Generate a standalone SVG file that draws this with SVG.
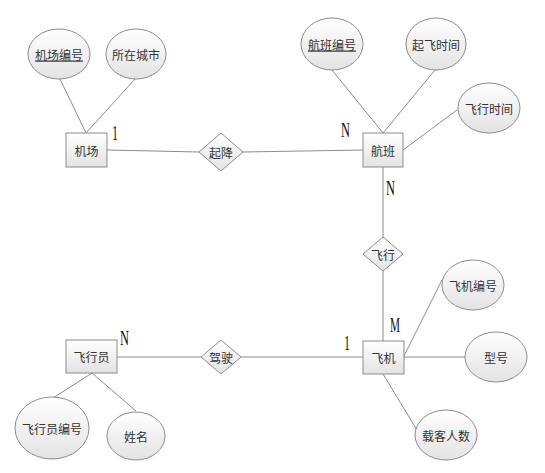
<svg xmlns="http://www.w3.org/2000/svg" width="545" height="473" viewBox="0 0 545 473">
<defs>
<linearGradient id="g" x1="0" y1="0" x2="0" y2="1">
<stop offset="0" stop-color="#ffffff"/>
<stop offset="1" stop-color="#e3e3e3"/>
</linearGradient>
<style>
.sh{fill:url(#g);stroke:#8c8c8c;stroke-width:1}
.ln{stroke:#8c8c8c;stroke-width:1;fill:none}
.t{font-family:"Noto Sans CJK SC","Noto Sans",sans-serif;font-size:12px;fill:#333;text-anchor:middle;dominant-baseline:central}
.u{text-decoration:underline}
.c{font-family:"Liberation Serif",serif;font-size:21px;fill:#111}
</style>
</defs>
<rect width="545" height="473" fill="#fff"/>
<g id="connectors">
<line class="ln" x1="60" y1="79" x2="86" y2="133"/>
<line class="ln" x1="135" y1="79" x2="86" y2="133"/>
<line class="ln" x1="107" y1="150" x2="199" y2="152"/>
<line class="ln" x1="243" y1="152" x2="363" y2="150"/>
<line class="ln" x1="332" y1="70" x2="383" y2="133"/>
<line class="ln" x1="435" y1="70" x2="383" y2="133"/>
<line class="ln" x1="457" y1="110" x2="403" y2="150"/>
<line class="ln" x1="383" y1="167" x2="383" y2="237"/>
<line class="ln" x1="383" y1="271" x2="383" y2="341"/>
<line class="ln" x1="404" y1="356" x2="442" y2="280"/>
<line class="ln" x1="404" y1="357" x2="465" y2="357"/>
<line class="ln" x1="383" y1="374" x2="417" y2="430"/>
<line class="ln" x1="117" y1="357" x2="201" y2="357"/>
<line class="ln" x1="241" y1="357" x2="363" y2="357"/>
<line class="ln" x1="92" y1="373" x2="53" y2="398"/>
<line class="ln" x1="92" y1="373" x2="136" y2="411"/>
</g>
<g id="attr-jichangbianhao"><ellipse class="sh" cx="59" cy="54" rx="31" ry="25"/><text class="t u" x="59" y="54">机场编号</text></g>
<g id="attr-suozaichengshi"><ellipse class="sh" cx="136" cy="54" rx="30" ry="25"/><text class="t" x="136" y="54">所在城市</text></g>
<g id="entity-jichang"><rect class="sh" x="66" y="133" width="41" height="34"/><text class="t" x="86.5" y="150">机场</text></g>
<g id="rel-qijiang"><polygon class="sh" points="221,133 243,152 221,171 199,152"/><text class="t" x="221" y="152">起降</text></g>
<g id="attr-hangbanbianhao"><ellipse class="sh" cx="332" cy="44" rx="31" ry="26"/><text class="t u" x="332" y="44">航班编号</text></g>
<g id="attr-qifeishijian"><ellipse class="sh" cx="436" cy="44" rx="30" ry="26"/><text class="t" x="436" y="44">起飞时间</text></g>
<g id="attr-feixingshijian"><ellipse class="sh" cx="489" cy="108" rx="31" ry="25"/><text class="t" x="489" y="108">飞行时间</text></g>
<g id="entity-hangban"><rect class="sh" x="363" y="133" width="40" height="34"/><text class="t" x="383" y="150">航班</text></g>
<g id="rel-feixing"><polygon class="sh" points="383,237 403,254 383,271 363,254"/><text class="t" x="383" y="254">飞行</text></g>
<g id="entity-feiji"><rect class="sh" x="363" y="341" width="41" height="33"/><text class="t" x="383.5" y="357.5">飞机</text></g>
<g id="attr-feijibianhao"><ellipse class="sh" cx="473" cy="285" rx="31" ry="25"/><text class="t" x="473" y="285">飞机编号</text></g>
<g id="attr-xinghao"><ellipse class="sh" cx="496" cy="357" rx="31" ry="25"/><text class="t" x="496" y="357">型号</text></g>
<g id="attr-zaikerenshu"><ellipse class="sh" cx="446" cy="435" rx="31" ry="25"/><text class="t" x="446" y="435">载客人数</text></g>
<g id="rel-jiashi"><polygon class="sh" points="221,340 241,357 221,374 201,357"/><text class="t" x="221" y="357">驾驶</text></g>
<g id="entity-feixingyuan"><rect class="sh" x="66" y="340" width="51" height="33"/><text class="t" x="91.5" y="356.5">飞行员</text></g>
<g id="attr-feixingyuanbianhao"><ellipse class="sh" cx="52" cy="428" rx="37" ry="31"/><text class="t" x="52" y="428">飞行员编号</text></g>
<g id="attr-xingming"><ellipse class="sh" cx="136" cy="436" rx="29" ry="24"/><text class="t" x="136" y="436">姓名</text></g>
<g id="cardinalities">
<text class="c" x="112" y="140" textLength="6" lengthAdjust="spacingAndGlyphs">1</text>
<text class="c" x="341" y="137" textLength="9" lengthAdjust="spacingAndGlyphs">N</text>
<text class="c" x="386" y="195" textLength="9" lengthAdjust="spacingAndGlyphs">N</text>
<text class="c" x="390" y="332" textLength="10" lengthAdjust="spacingAndGlyphs">M</text>
<text class="c" x="344" y="350" textLength="6" lengthAdjust="spacingAndGlyphs">1</text>
<text class="c" x="120" y="345" textLength="9" lengthAdjust="spacingAndGlyphs">N</text>
</g>
</svg>
